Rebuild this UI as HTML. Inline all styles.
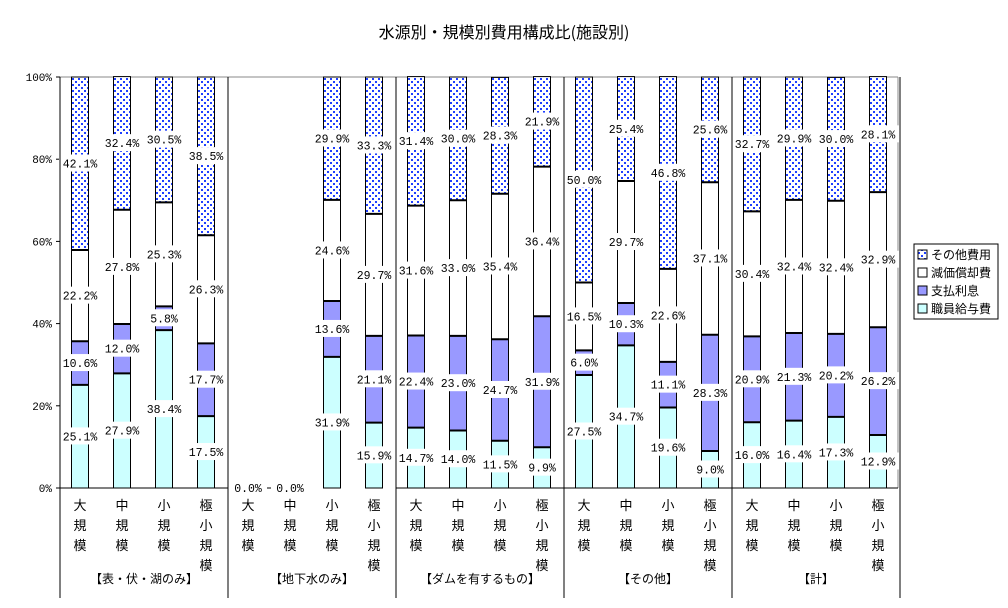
<!DOCTYPE html>
<html><head><meta charset="utf-8">
<style>
body{margin:0;background:#fff;}
svg text{font-family:"Liberation Mono","Noto Sans CJK JP",monospace;}
</style></head>
<body>
<svg id="chart" width="1008" height="603" viewBox="0 0 1008 603" xmlns="http://www.w3.org/2000/svg">
<defs>
<pattern id="dots" width="6" height="6" patternUnits="userSpaceOnUse">
<rect width="6" height="6" fill="#fff"/><rect x="0" y="0" width="2" height="2" fill="#1f3fff"/><rect x="3" y="3" width="2" height="2" fill="#1f3fff"/>
</pattern>
</defs>
<text x="504" y="38" text-anchor="middle" font-size="16" style="font-family:'Noto Sans CJK JP',sans-serif">水源別・規模別費用構成比(施設別)</text>
<g id="plot"></g>
<g>
<rect x="914" y="244" width="84" height="75" fill="#fff" stroke="#000"/>
<rect x="918" y="250" width="9" height="9" fill="url(#dots)" stroke="#000"/>
<text x="931" y="259" font-size="12" style="font-family:'Noto Sans CJK JP',sans-serif">その他費用</text>
<rect x="918" y="268" width="9" height="9" fill="#fff" stroke="#000"/>
<text x="931" y="277" font-size="12" style="font-family:'Noto Sans CJK JP',sans-serif">減価償却費</text>
<rect x="918" y="286" width="9" height="9" fill="#9999ff" stroke="#000"/>
<text x="931" y="295" font-size="12" style="font-family:'Noto Sans CJK JP',sans-serif">支払利息</text>
<rect x="918" y="304" width="9" height="9" fill="#ccffff" stroke="#000"/>
<text x="931" y="313" font-size="12" style="font-family:'Noto Sans CJK JP',sans-serif">職員給与費</text>
</g>
</svg>
<script>
const groups=["【表・伏・湖のみ】","【地下水のみ】","【ダムを有するもの】","【その他】","【計】"];
const sizes=["大規模","中規模","小規模","極小規模"];
const staff=[25.1,27.9,38.4,17.5, 0,0,31.9,15.9, 14.7,14.0,11.5,9.9, 27.5,34.7,19.6,9.0, 16.0,16.4,17.3,12.9];
const interest=[10.6,12.0,5.8,17.7, 0,0,13.6,21.1, 22.4,23.0,24.7,31.9, 6.0,10.3,11.1,28.3, 20.9,21.3,20.2,26.2];
const deprec=[22.2,27.8,25.3,26.3, 0,0,24.6,29.7, 31.6,33.0,35.4,36.4, 16.5,29.7,22.6,37.1, 30.4,32.4,32.4,32.9];
const other=[42.1,32.4,30.5,38.5, 0,0,29.9,33.3, 31.4,30.0,28.3,21.9, 50.0,25.4,46.8,25.6, 32.7,29.9,30.0,28.1];
const yTicks=[0,20,40,60,80,100];
const L=60,R=898,T=77,B=488,slot=42,bw=17;
const y=v=>B-(v/100)*(B-T);
const xc=i=>L+slot*i+slot/2-1;
const NS="http://www.w3.org/2000/svg";
const g=document.getElementById('plot');
function mk(t,a,txt){const e=document.createElementNS(NS,t);for(const k in a)e.setAttribute(k,a[k]);if(txt!=null)e.textContent=txt;g.appendChild(e);return e;}
mk('line',{x1:L,y1:T,x2:R,y2:T,stroke:'#888'});
mk('line',{x1:R,y1:T,x2:R,y2:B,stroke:'#888'});
yTicks.forEach(t=>{
 const tk=mk('line',{x1:L-4,y1:y(t),x2:L,y2:y(t),stroke:'#000'});
 
 
 const lb=mk('text',{x:L-8,y:y(t)+4,'font-size':11,'text-anchor':'end'},t+'%');
 
 
});
const series=[[staff,'#ccffff'],[interest,'#9999ff'],[deprec,'#fff'],[other,'url(#dots)']];
const labels=[];
for(let i=0;i<staff.length;i++){
 let acc=0;const x0=xc(i)-bw/2;
 series.forEach((s,k)=>{
  const v=s[0][i];
  const r=mk('rect',{x:x0,y:y(acc+v),width:bw,height:Math.max(0,y(acc)-y(acc+v)),fill:s[1],stroke:'#000','stroke-width':1});
  
  
  if(k>0&&v>0) mk('line',{x1:x0,x2:x0+bw,y1:y(acc),y2:y(acc),stroke:'#000','stroke-width':2});
  labels.push([xc(i),y(acc+v/2),v]);
  acc+=v;
 });
}
labels.forEach(l=>{
 if(l[2]===0) return;
 const s=l[2].toFixed(1)+'%';
 mk('rect',{x:l[0]-21,y:l[1]-9,width:42,height:17,fill:'#fff'});
 const t=mk('text',{x:l[0],y:l[1]+4,'font-size':11.5,'text-anchor':'middle'},s);
 
 
});
const zeros=[];
for(let i=0;i<staff.length;i++){
 if(staff[i]+interest[i]+deprec[i]+other[i]===0) zeros.push(i);
}
if(zeros.length>1) mk('line',{x1:xc(zeros[0]),x2:xc(zeros[zeros.length-1]),y1:B,y2:B,stroke:'#000'});
zeros.forEach(i=>{
 mk('rect',{x:xc(i)-19,y:B-7,width:38,height:14,fill:'#fff'});
 const t=mk('text',{x:xc(i),y:B+4,'font-size':11.5,'text-anchor':'middle'},'0.0%');
 
 
});
mk('line',{x1:L,y1:B,x2:L+slot*4,y2:B,stroke:'#000'});
mk('line',{x1:L+slot*8,y1:B,x2:R,y2:B,stroke:'#000'});
mk('line',{x1:L,y1:T,x2:L,y2:598,stroke:'#000'});
for(let gi=0;gi<groups.length;gi++){
 const xs=L+slot*4*(gi+1);
 mk('line',{x1:xs,y1:T,x2:xs,y2:598,stroke:'#000'});
 const t=mk('text',{x:L+slot*4*gi+slot*2,y:583,'font-size':12,'text-anchor':'middle',style:"font-family:'Noto Sans CJK JP',sans-serif"},groups[gi]);
 
 
 sizes.forEach((sz,si)=>{
  const i=gi*4+si;
  [...sz].forEach((ch,ci)=>{
   const c=mk('text',{x:xc(i),y:510+ci*20,'font-size':13,'text-anchor':'middle',style:"font-family:'Noto Sans CJK JP',sans-serif"},ch);
   
   
  });
 });
}
</script>
</body></html>
